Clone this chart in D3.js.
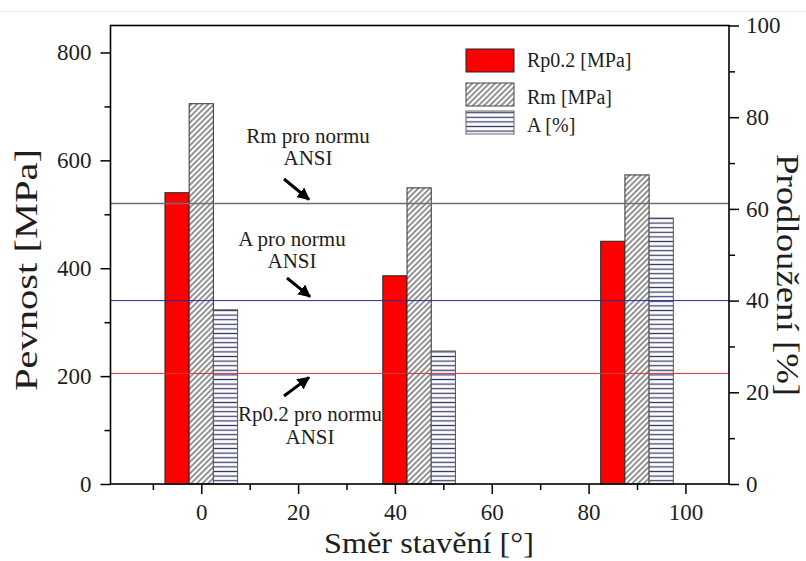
<!DOCTYPE html>
<html><head><meta charset="utf-8">
<script src="https://cdn.jsdelivr.net/npm/d3@7"></script>
<style>
body{margin:0;background:#fff}
text{font-family:"Liberation Serif","DejaVu Serif",serif;fill:#1e1e1e}
</style>
</head><body><svg id="c" width="806" height="561"></svg>
<script>
// ---- data ----
const directions = [0, 45, 90];          // build direction [°]
const rp02 = [540, 386, 450];            // Rp0.2 [MPa]
const rm = [705, 549, 573];              // Rm [MPa]
const elong = [38, 29, 58];              // A [%]
const normRp = 205, normRm = 520, normA = 40;
const leftTicks = [0, 200, 400, 600, 800];
const leftMinor = [100, 300, 500, 700];
const rightTicks = [0, 20, 40, 60, 80, 100];
const rightMinor = [10, 30, 50, 70, 90];
const xTicks = [0, 20, 40, 60, 80, 100];
const xMinor = [-10, 10, 30, 50, 70, 90];
const seriesNames = ["Rp0.2 [MPa]", "Rm [MPa]", "A [%]"];

// ---- layout ----
const L = 110.5, R = 729, T = 25.5, B = 484;
const x = d3.scaleLinear().domain([-18.75, 109]).range([L, R]);
const yL = d3.scaleLinear().domain([0, 850]).range([B, T]);
const yR = d3.scaleLinear().domain([0, 100]).range([B, T]);
const svg = d3.select("#c");

svg.append("line").attr("x1",0).attr("x2",806).attr("y1",11.5).attr("y2",11.5)
  .attr("stroke","#ececec").attr("stroke-width",1);

const defs = svg.append("defs");
const ph = defs.append("pattern").attr("id","hatch").attr("patternUnits","userSpaceOnUse")
  .attr("width",4).attr("height",4).attr("patternTransform","rotate(45)");
ph.append("rect").attr("width",4).attr("height",4).attr("fill","#fff");
ph.append("line").attr("x1",1).attr("y1",0).attr("x2",1).attr("y2",4)
  .attr("stroke","#3a3a3a").attr("stroke-width",1.1);
const pz = defs.append("pattern").attr("id","horiz").attr("patternUnits","userSpaceOnUse")
  .attr("width",10).attr("height",4.6);
pz.append("rect").attr("width",10).attr("height",4.6).attr("fill","#fff");
pz.append("line").attr("x1",0).attr("y1",2.3).attr("x2",10).attr("y2",2.3)
  .attr("stroke","#3c3c6c").attr("stroke-width",1.3);

// ---- bars ----
const bw = x(5) - x(0);
const series = [
  {vals: rp02, scale: yL, off: -5, fill: "#ff0000", stroke: "#222"},
  {vals: rm, scale: yL, off: 0, fill: "url(#hatch)", stroke: "#333"},
  {vals: elong, scale: yR, off: 5, fill: "url(#horiz)", stroke: "#555"}
];
series.forEach(s => {
  svg.append("g").selectAll("rect").data(directions).join("rect")
    .attr("x", (d) => x(d + s.off - 2.5))
    .attr("width", bw)
    .attr("y", (d, i) => s.scale(s.vals[i]))
    .attr("height", (d, i) => B - s.scale(s.vals[i]))
    .attr("fill", s.fill).attr("stroke", s.stroke).attr("stroke-width", 1);
});

// ---- norm lines ----
const norms = [
  {y: yL(normRm), color: "#707070", w: 1.6},
  {y: yR(normA), color: "#2a2a9a", w: 1},
  {y: yL(normRp), color: "#cc3b3b", w: 1}
];
norms.forEach(n => svg.append("line").attr("x1", L).attr("x2", R)
  .attr("y1", n.y).attr("y2", n.y).attr("stroke", n.color).attr("stroke-width", n.w));

// ---- frame & axes ----
svg.append("rect").attr("x", L).attr("y", T).attr("width", R - L).attr("height", B - T)
  .attr("fill", "none").attr("stroke", "#000").attr("stroke-width", 1.6);

function styleAxis(g){
  g.select(".domain").remove();
  g.selectAll("line").attr("stroke","#000").attr("stroke-width",1.5);
  g.selectAll("text").attr("font-size",23).attr("fill","#1e1e1e");
}
svg.append("g").attr("transform",`translate(${L},0)`)
  .call(d3.axisLeft(yL).tickValues(leftTicks).tickSize(10).tickPadding(9)).call(styleAxis);
svg.append("g").attr("transform",`translate(${L},0)`)
  .call(d3.axisLeft(yL).tickValues(leftMinor).tickSize(6).tickFormat("")).call(styleAxis);
svg.append("g").attr("transform",`translate(${R},0)`)
  .call(d3.axisRight(yR).tickValues(rightTicks).tickSize(10).tickPadding(7)).call(styleAxis);
svg.append("g").attr("transform",`translate(${R},0)`)
  .call(d3.axisRight(yR).tickValues(rightMinor).tickSize(6).tickFormat("")).call(styleAxis);
svg.append("g").attr("transform",`translate(0,${B})`)
  .call(d3.axisBottom(x).tickValues(xTicks).tickSize(10).tickPadding(10)).call(styleAxis);
svg.append("g").attr("transform",`translate(0,${B})`)
  .call(d3.axisBottom(x).tickValues(xMinor).tickSize(6).tickFormat("")).call(styleAxis);

// ---- axis titles ----
svg.append("text").attr("transform","translate(37,270) rotate(-90)")
  .attr("text-anchor","middle").attr("font-size",32)
  .attr("textLength",242).attr("lengthAdjust","spacingAndGlyphs").text("Pevnost [MPa]");
svg.append("text").attr("transform","translate(777,275) rotate(90)")
  .attr("text-anchor","middle").attr("font-size",32)
  .attr("textLength",242).attr("lengthAdjust","spacingAndGlyphs").text("Prodloužení [%]");
svg.append("text").attr("x",429).attr("y",553)
  .attr("text-anchor","middle").attr("font-size",30)
  .attr("textLength",210).attr("lengthAdjust","spacingAndGlyphs").text("Směr stavění [°]");

// ---- annotations ----
defs.append("marker").attr("id","ah").attr("viewBox","0 0 10 10").attr("refX",9).attr("refY",5)
  .attr("markerWidth",4.2).attr("markerHeight",4.2).attr("orient","auto")
  .append("path").attr("d","M0,0 L10,5 L0,10 z").attr("fill","#000");
function arrow(x1,y1,x2,y2){
  svg.append("line").attr("x1",x1).attr("y1",y1).attr("x2",x2).attr("y2",y2)
    .attr("stroke","#000").attr("stroke-width",3).attr("marker-end","url(#ah)");
}
function label(lines, cx, y0, dy){
  lines.forEach((t,i)=> svg.append("text").attr("x",cx).attr("y",y0+i*dy)
    .attr("text-anchor","middle").attr("font-size",21).text(t));
}
label(["Rm pro normu","ANSI"], 308, 143, 22);
arrow(284, 179, 309, yL(normRm) - 4);
label(["A pro normu","ANSI"], 292, 246, 22);
arrow(287, 278, 310, yR(normA) - 4);
arrow(284, 396, 309, yL(normRp) + 4);
label(["Rp0.2 pro normu","ANSI"], 310, 421, 23);

// ---- legend ----
const lg = svg.append("g");
const legRows = [
  {y: 49, fill: "#ff0000", stroke: "#222", base: 67},
  {y: 83, fill: "url(#hatch)", stroke: "#444", base: 104},
  {y: 111, fill: "url(#horiz)", stroke: "#666", base: 132}
];
legRows.forEach((r, i) => {
  lg.append("rect").attr("x", 466).attr("y", r.y).attr("width", 48).attr("height", 23)
    .attr("fill", r.fill).attr("stroke", r.stroke).attr("stroke-width", 1);
  lg.append("text").attr("x", 527).attr("y", r.base).attr("font-size", 20).text(seriesNames[i]);
});
</script></body></html>
